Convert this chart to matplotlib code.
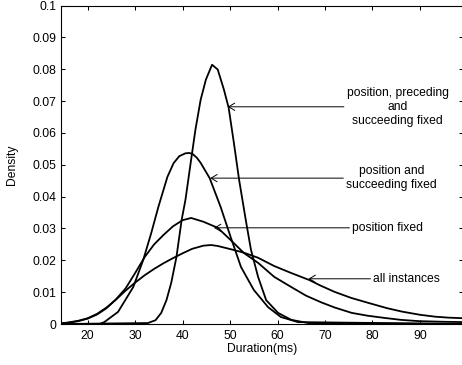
import matplotlib
matplotlib.use("Agg")
import matplotlib.pyplot as plt

plt.rcParams["font.family"] = ["Liberation Sans", "DejaVu Sans"]
plt.rcParams["font.size"] = 8.7

# Duration density estimates (ms vs density)
x_all_fixed = [14.4, 32.7, 34.3, 35.5, 36.6, 37.6, 38.7, 39.8, 40.6, 41.7, 42.7, 43.8, 44.9,
               46.2, 47.4, 48.7, 49.7, 50.8, 51.9, 53.3, 54.4, 55.9, 57.6, 60.1, 62.9, 66.5, 99.5]
y_all_fixed = [0, 0.0003, 0.0012, 0.0035, 0.0075, 0.0129, 0.021, 0.0327, 0.039, 0.0506, 0.061,
               0.0704, 0.0767, 0.0814, 0.0799, 0.0736, 0.0679, 0.0569, 0.0453, 0.0327, 0.0233,
               0.0148, 0.0075, 0.0035, 0.0013, 0.0003, 0]

x_pos_succ = [14.4, 22.5, 23.5, 26.4, 29.6, 31.7, 33.4, 34.9, 36.8, 38.1, 39.3, 40.6, 41.4,
              42.1, 43.0, 43.8, 45.7, 48.0, 50.1, 52.3, 55.0, 58.0, 60.7, 64.3, 99.5]
y_pos_succ = [0, 0, 0.0006, 0.0038, 0.0116, 0.0201, 0.0286, 0.0368, 0.0462, 0.0505, 0.0527,
              0.0536, 0.0537, 0.0534, 0.0522, 0.0506, 0.0458, 0.0368, 0.0274, 0.0179, 0.0107,
              0.0053, 0.0022, 0.0006, 0]

x_pos = [14.4, 16, 18, 20, 22, 24, 26, 28, 30, 32, 34, 36, 38, 40, 41.8, 44.4, 47.4, 50.1,
         52.9, 55.9, 59.3, 62.9, 66, 69.2, 72, 75.6, 79, 82.6, 86, 89.8, 95, 99.5]
y_pos = [0.0002, 0.0004, 0.0009, 0.0017, 0.003, 0.005, 0.0078, 0.0112, 0.016, 0.021, 0.025,
         0.028, 0.0307, 0.0326, 0.0333, 0.0321, 0.0302, 0.0264, 0.0223, 0.0192, 0.0148, 0.0116,
         0.0089, 0.0068, 0.0052, 0.0035, 0.0026, 0.0019, 0.0013, 0.0009, 0.0007, 0.0006]

x_inst = [14.4, 16, 18, 20, 22, 24, 26, 28, 30, 32, 34, 36, 38, 40, 42, 44.4, 46, 47.4, 50.1,
          52.9, 55.9, 59.3, 62.9, 66.7, 69, 72, 75.5, 79.2, 83, 86.2, 90, 93.2, 96, 99.5]
y_inst = [0.0002, 0.0005, 0.001, 0.0018, 0.0032, 0.0052, 0.0077, 0.0105, 0.013, 0.0153, 0.0173,
          0.0191, 0.0207, 0.0222, 0.0236, 0.0246, 0.0248, 0.0245, 0.0235, 0.0224, 0.0208, 0.0182,
          0.016, 0.0138, 0.0121, 0.0101, 0.0082, 0.0066, 0.005, 0.0039, 0.0029, 0.0023, 0.002,
          0.0018]

labels = ["position, preceding\nand\nsucceeding fixed", "position and\nsucceeding fixed",
          "position fixed", "all instances"]
label_tip = [(49.5, 0.0682), (45.8, 0.0458), (46.6, 0.0302), (66.5, 0.0142)]
label_text = [(85.3, 0.0682), (84.0, 0.0458), (83.2, 0.0302), (87.2, 0.0142)]

xticks = [20, 30, 40, 50, 60, 70, 80, 90]
yticks = [0, 0.01, 0.02, 0.03, 0.04, 0.05, 0.06, 0.07, 0.08, 0.09, 0.1]
ytick_labels = ["0", "0.01", "0.02", "0.03", "0.04", "0.05", "0.06", "0.07", "0.08", "0.09", "0.1"]

fig = plt.figure(figsize=(4.62, 3.65), dpi=100)
ax = fig.add_axes([0.132, 0.1123, 0.8701, 0.8726])

for xs, ys in [(x_all_fixed, y_all_fixed), (x_pos_succ, y_pos_succ), (x_pos, y_pos), (x_inst, y_inst)]:
    ax.plot(xs, ys, color="black", lw=1.3)

for text, tip, pos in zip(labels, label_tip, label_text):
    ax.annotate(text, xy=tip, xytext=pos, ha="center", va="center",
                arrowprops=dict(arrowstyle="->,head_length=0.5,head_width=0.3",
                                color="black", lw=0.7, shrinkA=0, shrinkB=0))

ax.set_xlim(14.38, 99.06)
ax.set_ylim(0, 0.1)
ax.set_xticks(xticks)
ax.set_yticks(yticks)
ax.set_yticklabels(ytick_labels)
ax.tick_params(direction="in", length=3, width=0.75, top=True, right=True, pad=3)
ax.tick_params(axis="x", pad=4)
for side in ["left", "bottom", "top"]:
    ax.spines[side].set_linewidth(0.8)
ax.spines["right"].set_visible(False)

ax.set_xlabel("Duration(ms)", labelpad=1)
ax.set_ylabel("Density", labelpad=11)

fig.savefig("out.png", dpi=100)
